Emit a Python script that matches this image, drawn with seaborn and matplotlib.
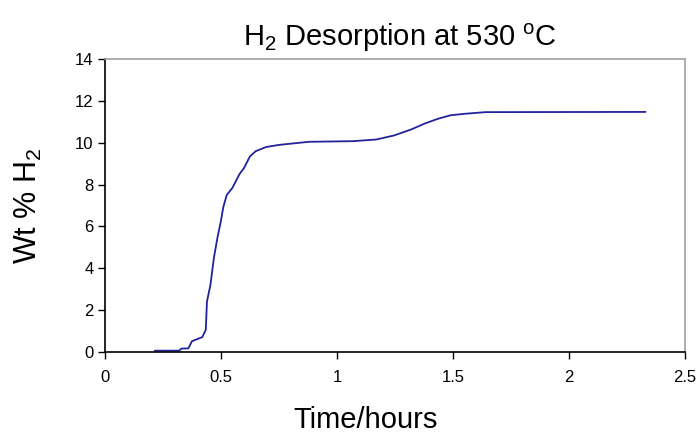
import matplotlib
matplotlib.use("Agg")
import matplotlib.pyplot as plt
import seaborn as sns
import pandas as pd

time_hours = [0.215, 0.32, 0.33, 0.36, 0.375, 0.42, 0.435, 0.44, 0.455, 0.47,
              0.485, 0.50, 0.51, 0.525, 0.55, 0.58, 0.60, 0.625, 0.65, 0.695,
              0.75, 0.81, 0.88, 1.07, 1.17, 1.245, 1.32, 1.38, 1.435, 1.49,
              1.55, 1.64, 2.33]
wt_pct_h2 = [0.05, 0.05, 0.15, 0.16, 0.5, 0.7, 1.05, 2.4, 3.2, 4.5,
             5.45, 6.25, 6.9, 7.5, 7.85, 8.5, 8.8, 9.35, 9.6, 9.8,
             9.9, 9.97, 10.05, 10.08, 10.16, 10.35, 10.64, 10.93, 11.15, 11.32,
             11.39, 11.47, 11.48]
x_ticks = [0, 0.5, 1, 1.5, 2, 2.5]
x_tick_labels = ["0", "0.5", "1", "1.5", "2", "2.5"]
y_ticks = [0, 2, 4, 6, 8, 10, 12, 14]

sns.set_theme(style="white")
plt.rcParams['font.family'] = ['Liberation Sans', 'DejaVu Sans']
plt.rcParams['mathtext.fontset'] = 'custom'
plt.rcParams['mathtext.rm'] = 'Liberation Sans'
plt.rcParams['text.color'] = 'black'

df = pd.DataFrame({"t": time_hours, "w": wt_pct_h2})

fig = plt.figure(figsize=(6.99, 4.34), dpi=100)
ax = fig.add_axes([0.150, 0.1896, 0.830, 0.6738])
sns.lineplot(data=df, x="t", y="w", ax=ax, color="#22229c", linewidth=1.3)

ax.set_xlim(0, 2.5)
ax.set_ylim(0, 14)
ax.set_xticks(x_ticks)
ax.set_xticklabels(x_tick_labels)
ax.set_yticks(y_ticks)
ax.tick_params(axis="both", direction="out", length=5, width=1, colors="black",
               labelsize=12, bottom=True, left=True, pad=8)
ax.tick_params(axis="y", pad=3)

for side in ["left", "bottom"]:
    ax.spines[side].set_color("black")
    ax.spines[side].set_linewidth(1.2)
for side in ["top", "right"]:
    ax.spines[side].set_color("#a0a0a0")
    ax.spines[side].set_linewidth(1.2)

ax.set_xlabel("")
ax.set_ylabel("")
fig.text(0.5236, 0.0131, "Time/hours", fontsize=21, ha="center", va="baseline",
         color="black")
fig.text(0.0186, 0.527, "Wt % H$_2$", fontsize=22, rotation=90,
         ha="left", va="center", color="black")
fig.text(0.5722, 0.895, "H$_2$ Desorption at 530 $^{\\rm o}$C", fontsize=21,
         ha="center", va="baseline", color="black")

fig.savefig("out.png", dpi=100)
